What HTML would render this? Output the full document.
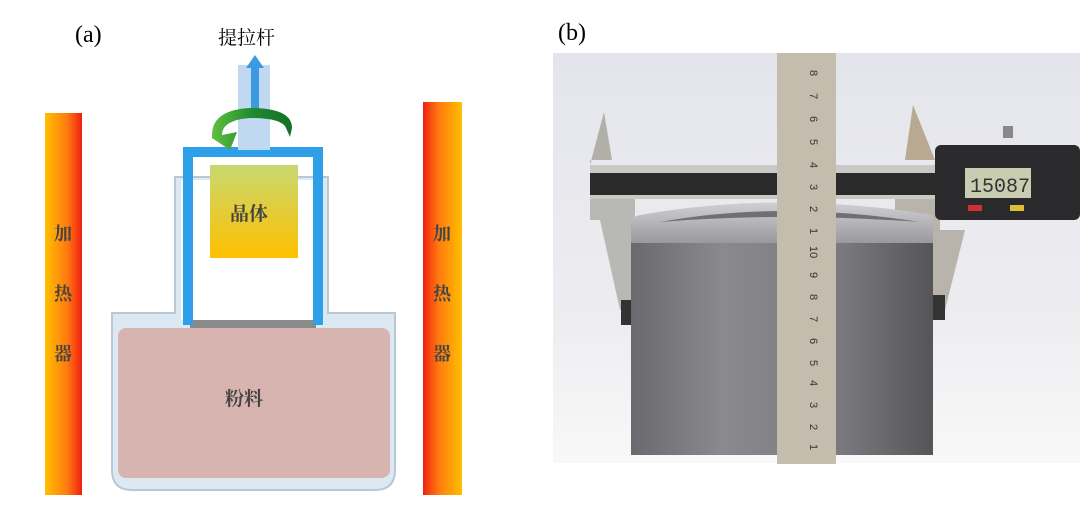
<!DOCTYPE html>
<html><head><meta charset="utf-8"><style>
body{margin:0;width:1080px;height:511px;background:#fff;overflow:hidden;font-family:"Liberation Serif","Noto Serif CJK SC",serif;}
</style></head><body>
<svg width="1080" height="511" viewBox="0 0 1080 511" xmlns="http://www.w3.org/2000/svg">
<defs>
<linearGradient id="heat" x1="0" x2="1"><stop offset="0" stop-color="#ffc000"/><stop offset="0.6" stop-color="#ff7a10"/><stop offset="1" stop-color="#f02010"/></linearGradient>
<linearGradient id="heat2" x1="0" x2="1"><stop offset="0" stop-color="#f02010"/><stop offset="0.4" stop-color="#ff7a10"/><stop offset="1" stop-color="#ffc000"/></linearGradient>
<linearGradient id="cry" x1="0" y1="0" x2="0" y2="1"><stop offset="0" stop-color="#c8d870"/><stop offset="1" stop-color="#ffc000"/></linearGradient>
<linearGradient id="cyl" x1="0" x2="1"><stop offset="0" stop-color="#6a6a6e"/><stop offset="0.3" stop-color="#8a8a8e"/><stop offset="0.7" stop-color="#7a7a7e"/><stop offset="1" stop-color="#555558"/></linearGradient>
<linearGradient id="bg" x1="0" y1="0" x2="0" y2="1"><stop offset="0" stop-color="#e4e4ec"/><stop offset="0.6" stop-color="#ececf0"/><stop offset="1" stop-color="#f8f8f8"/></linearGradient>
<linearGradient id="grn" x1="0" x2="1"><stop offset="0" stop-color="#60c040"/><stop offset="0.5" stop-color="#208a30"/><stop offset="1" stop-color="#157025"/></linearGradient>
<linearGradient id="top" x1="0" y1="0" x2="0" y2="1"><stop offset="0" stop-color="#d0d0d4"/><stop offset="1" stop-color="#9a9a9e"/></linearGradient>
</defs>
<text x="75" y="42" font-size="24">(a)</text>
<text x="558" y="40" font-size="24">(b)</text>
<text x="218" y="44" font-size="19" font-family="Noto Serif CJK SC,serif">提拉杆</text>
<rect x="45" y="113" width="37" height="382" fill="url(#heat)"/>
<rect x="423" y="102" width="39" height="393" fill="url(#heat2)"/>
<g font-size="18" font-weight="bold" font-family="Noto Serif CJK SC,serif" fill="#444">
<text x="54" y="240">加</text><text x="54" y="300">热</text><text x="54" y="360">器</text>
<text x="433" y="240">加</text><text x="433" y="300">热</text><text x="433" y="360">器</text>
</g>
<path d="M112 313 H175 V177 H328 V313 H395 V470 Q395 490 375 490 H132 Q112 490 112 470 Z" fill="#dce8f2" stroke="#b8c8d6" stroke-width="2"/>
<rect x="118" y="328" width="272" height="150" rx="8" fill="#d8b4b0"/>
<rect x="190" y="320" width="126" height="8" fill="#8a8a8a"/>
<rect x="181" y="180" width="141" height="140" fill="#fff"/>
<path d="M188 325 V152 H318 V325" fill="none" stroke="#2ea0ea" stroke-width="10"/>
<rect x="210" y="165" width="88" height="93" fill="url(#cry)"/>
<text x="230" y="220" font-size="19" font-weight="bold" font-family="Noto Serif CJK SC,serif" fill="#444">晶体</text>
<text x="225" y="405" font-size="19" font-weight="bold" font-family="Noto Serif CJK SC,serif" fill="#444">粉料</text>
<rect x="238" y="65" width="32" height="85" fill="#c0d8f0"/>
<path d="M251 115 V68 H246 L255 55 L264 68 H259 V115 Z" fill="#3c9ae0"/>
<path d="M212 135 Q212 110 250 108 Q292 108 292 128 L290 137 L286 128 Q282 118 250 118 Q222 120 222 135 L237 132 L230 150 L212 138 Z" fill="url(#grn)"/>
<rect x="553" y="53" width="527" height="410" fill="url(#bg)"/>
<path d="M604 112 L612 160 H590 V165 Z" fill="#b0b0a8"/>
<path d="M913 105 L905 160 H935 Z" fill="#b8aa90"/>
<path d="M590 165 H635 V310 H620 L600 220 H590 Z" fill="#b8b8b4"/>
<path d="M895 165 H940 V230 L965 230 L945 310 H930 V250 H895Z" fill="#b8b4ac"/>
<rect x="621" y="300" width="14" height="25" fill="#333"/>
<rect x="932" y="295" width="13" height="25" fill="#333"/>
<rect x="590" y="165" width="350" height="34" fill="#c8c8c4"/>
<rect x="590" y="173" width="345" height="22" fill="#2a2a2a"/>
<path d="M640 215 Q780 190 933 215 L933 243 H631 V218 Z" fill="url(#top)"/>
<path d="M660 222 Q780 200 920 222 Q780 212 660 222 Z" fill="#707074"/>
<rect x="631" y="243" width="302" height="212" fill="url(#cyl)"/>
<rect x="935" y="145" width="145" height="75" rx="6" fill="#2a2a2c"/>
<rect x="965" y="168" width="66" height="30" fill="#c8ccb0"/>
<text x="970" y="192" font-size="20" font-family="Liberation Mono,monospace" fill="#333">15087</text>
<rect x="968" y="205" width="14" height="6" fill="#d03030"/><rect x="1010" y="205" width="14" height="6" fill="#e0c030"/>
<rect x="1003" y="126" width="10" height="12" fill="#888"/>
<rect x="777" y="53" width="59" height="411" fill="#c4bcac"/>
<g font-size="11" fill="#333" font-family="Liberation Sans,sans-serif">
<text transform="translate(810,70) rotate(90)">8</text><text transform="translate(810,93) rotate(90)">7</text><text transform="translate(810,116) rotate(90)">6</text><text transform="translate(810,139) rotate(90)">5</text><text transform="translate(810,162) rotate(90)">4</text><text transform="translate(810,184) rotate(90)">3</text><text transform="translate(810,206) rotate(90)">2</text><text transform="translate(810,228) rotate(90)">1</text><text transform="translate(810,246) rotate(90)">10</text><text transform="translate(810,272) rotate(90)">9</text><text transform="translate(810,294) rotate(90)">8</text><text transform="translate(810,316) rotate(90)">7</text><text transform="translate(810,338) rotate(90)">6</text><text transform="translate(810,360) rotate(90)">5</text><text transform="translate(810,380) rotate(90)">4</text><text transform="translate(810,402) rotate(90)">3</text><text transform="translate(810,424) rotate(90)">2</text><text transform="translate(810,444) rotate(90)">1</text>
</g>
</svg>
</body></html>
